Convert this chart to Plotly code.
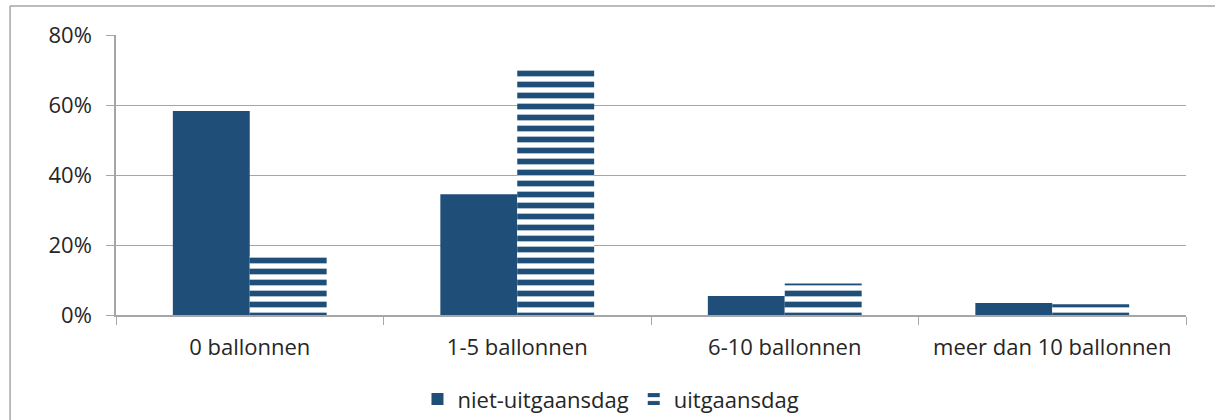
import plotly.graph_objects as go

categories = ["0 ballonnen", "1-5 ballonnen", "6-10 ballonnen", "meer dan 10 ballonnen"]
niet_uitgaansdag = [0.583, 0.345, 0.054, 0.034]
uitgaansdag = [0.169, 0.711, 0.090, 0.031]
series_names = ["niet-uitgaansdag", "uitgaansdag"]
y_ticks = [0, 0.2, 0.4, 0.6, 0.8]
y_tick_labels = ["0%", "20%", "40%", "60%", "80%"]

blue = "#1f4e79"
grid = "#a6a6a6"
font_family = "'Open Sans', Lato, sans-serif"
fs = 22

fig = go.Figure()
fig.add_trace(go.Bar(
    x=categories, y=niet_uitgaansdag, name=series_names[0],
    marker=dict(color=blue, line=dict(width=0)),
))
fig.add_trace(go.Bar(
    x=categories, y=uitgaansdag, name=series_names[1],
    marker=dict(color="white", line=dict(width=0),
                pattern=dict(shape="-", fgcolor=blue, bgcolor="white",
                             size=11, solidity=0.52, fillmode="replace")),
))

fig.update_layout(
    width=1215, height=420,
    margin=dict(l=116, r=29, t=35, b=105, autoexpand=False),
    paper_bgcolor="white", plot_bgcolor="white",
    barmode="group", bargap=0.425, bargroupgap=0,
    font=dict(family=font_family, size=fs, color="#262626"),
    showlegend=True,
    legend=dict(orientation="h", x=0.4626, xanchor="center", y=-0.226, yanchor="top",
                font=dict(size=fs), itemwidth=30, traceorder="normal"),
    xaxis=dict(showgrid=False, showline=True, linecolor=grid, linewidth=1.5,
               ticks="outside", ticklen=8, tickcolor=grid, tickson="boundaries",
               ticklabelstandoff=12, tickfont=dict(size=fs)),
    yaxis=dict(range=[0, 0.8], tickvals=y_ticks, ticktext=y_tick_labels,
               showgrid=True, gridcolor=grid, gridwidth=1.2,
               showline=True, linecolor=grid, linewidth=1.5,
               ticks="outside", ticklen=8, tickcolor=grid,
               ticklabelstandoff=10, zeroline=False, tickfont=dict(size=fs)),
    shapes=[
        dict(type="line", xref="paper", yref="paper", x0=-0.099, x1=1.05, y0=1.1036, y1=1.1036,
             line=dict(color="#a6a6a6", width=1.5)),
        dict(type="line", xref="paper", yref="paper", x0=-0.099, x1=-0.099, y0=1.1036, y1=-0.5,
             line=dict(color="#a6a6a6", width=1.5)),
    ],
)

fig.write_html("out.html", config={"displayModeBar": False},
               post_script="document.body.style.margin='0';")
